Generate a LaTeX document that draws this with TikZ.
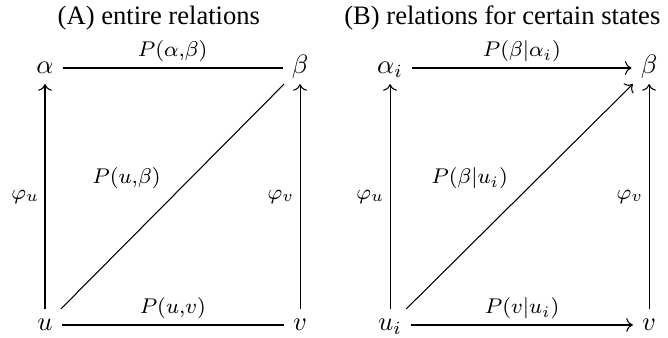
\documentclass[tikz,border=0pt]{standalone}
\usepackage{amsmath,amssymb}
\usepackage[no-math]{fontspec}
\setmainfont{Liberation Serif}
\usepackage{tikz}
\usetikzlibrary{arrows.meta,positioning,calc}
\tikzset{
  obj/.style={inner xsep=3.3pt, inner ysep=1.5pt, text height=1.4ex, text depth=.5ex},
  arr/.style={->},
  lbl/.style={font=\footnotesize, inner sep=2pt},
  ttl/.style={font=\normalsize},
}

\begin{document}
\begin{tikzpicture}
  \useasboundingbox (0,0) rectangle (8.83,4.455);
  % (A)
  \node[ttl] (ta) at (2.10,4.22) {(A) entire relations};
  \node[obj] (a) at (0.595,3.556) {$\alpha$};
  \node[obj] (b) at (3.966,3.556) {$\beta$};
  \node[obj] (u) at (0.595,0.159) {$u$};
  \node[obj] (v) at (3.966,0.159) {$v$};
  \draw (a) -- node[lbl, above] {$P(\alpha{,}\beta)$} (b);
  \draw[arr] (u) -- node[lbl, left] {$\varphi_u$} (a);
  \draw (u) -- node[lbl, pos=.58, left=9pt] {$P(u{,}\beta)$} (b);
  \draw[arr] (v) -- node[lbl, left] {$\varphi_v$} (b);
  \draw (u) -- node[lbl, above] {$P(u{,}v)$} (v);
  % (B)
  \node[ttl] (tb) at (6.64,4.22) {(B) relations for certain states};
  \node[obj] (ai) at (5.156,3.556) {$\alpha_i$};
  \node[obj] (bb) at (8.58,3.556) {$\beta$};
  \node[obj] (ui) at (5.156,0.159) {$u_i$};
  \node[obj] (vv) at (8.58,0.159) {$v$};
  \draw[arr] (ai) -- node[lbl, above] {$P(\beta|\alpha_i)$} (bb);
  \draw[arr] (ui) -- node[lbl, left] {$\varphi_u$} (ai);
  \draw[arr] (ui) -- node[lbl, pos=.58, left=9pt] {$P(\beta|u_i)$} (bb);
  \draw[arr] (vv) -- node[lbl, left] {$\varphi_v$} (bb);
  \draw[arr] (ui) -- node[lbl, above] {$P(v|u_i)$} (vv);
\end{tikzpicture}
\end{document}
